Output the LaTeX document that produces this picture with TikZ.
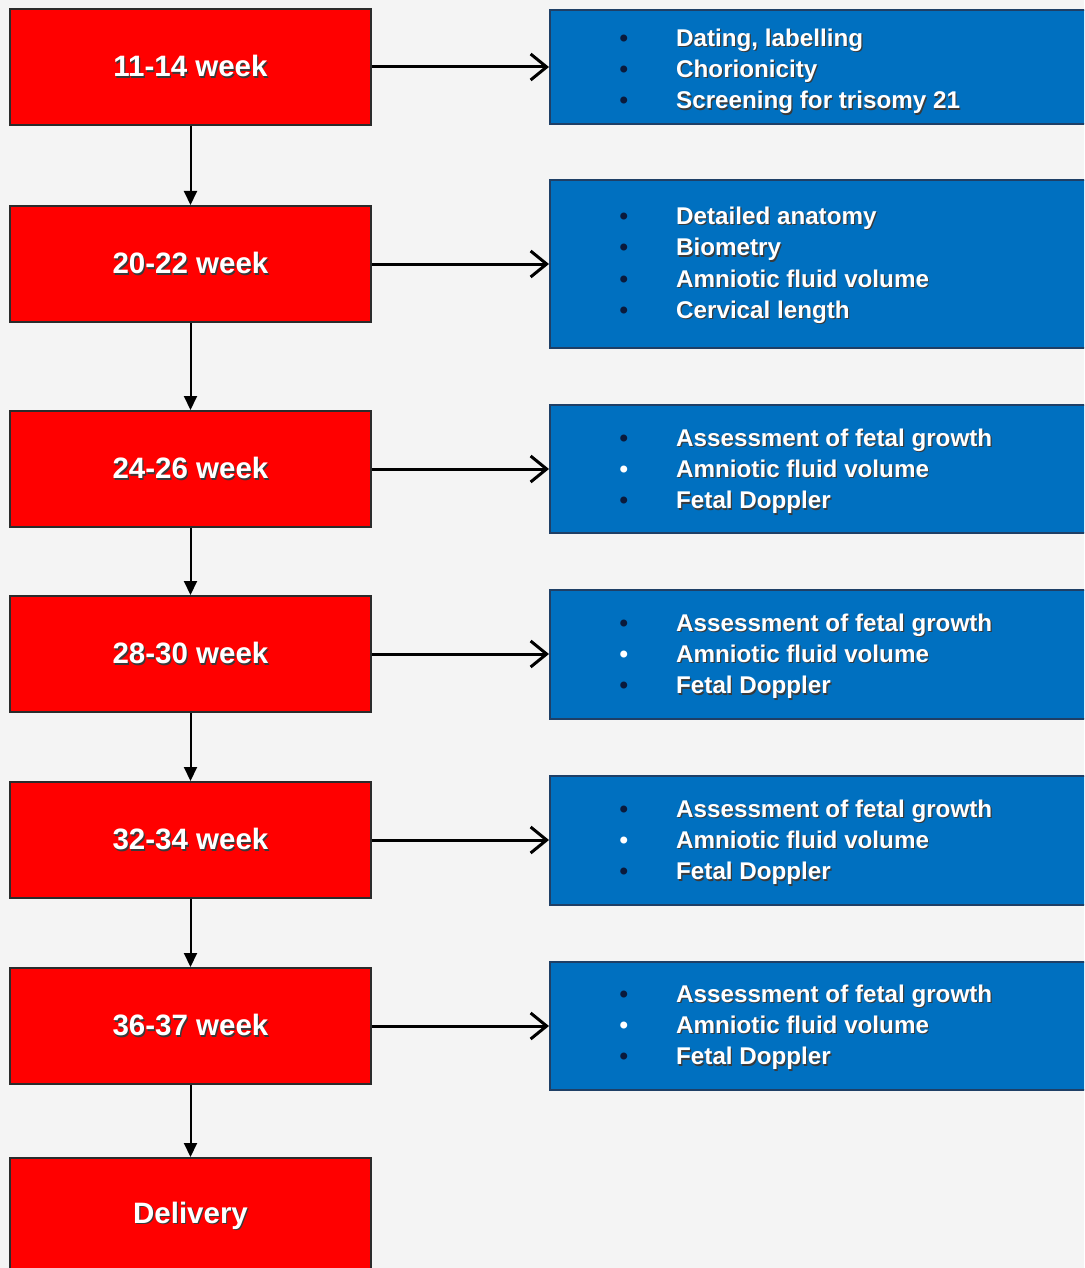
\documentclass[tikz,border=0pt]{standalone}
\usepackage{fontspec}
\setmainfont{Liberation Sans}
\usetikzlibrary{arrows.meta}
\definecolor{bg}{HTML}{F4F4F4}
\definecolor{boxred}{HTML}{FF0000}
\definecolor{boxblue}{HTML}{0070C0}
\definecolor{redborder}{HTML}{2B2B2B}
\definecolor{blueborder}{HTML}{1F3F66}
\definecolor{navy}{HTML}{0A1A3C}
\definecolor{shade}{HTML}{3A3A3A}
\newcommand{\sh}[1]{\leavevmode\rlap{\kern1.2pt\raisebox{-1.2pt}{\textcolor{shade}{#1}}}#1}
\newcommand{\dkb}{\makebox[0pt][r]{\textcolor{navy}{\textbullet}\hspace{48pt}}}
\newcommand{\wtb}{\makebox[0pt][r]{\textcolor{white}{\textbullet}\hspace{48pt}}}
\tikzset{
  redbox/.style={draw=redborder, line width=2pt, fill=boxred, minimum width=361pt,
    minimum height=116pt, text=white, font=\fontsize{29.5}{34}\selectfont\bfseries,
    inner sep=0pt, anchor=north west},
  bluebox/.style={draw=blueborder, line width=2pt, fill=boxblue, minimum width=545pt,
    inner sep=0pt, anchor=north west},
  bluetext/.style={text=white, font=\fontsize{24.2}{31.3}\selectfont\bfseries,
    align=left, anchor=west, inner sep=0pt},
  harrow/.style={line width=3pt, -{Straight Barb[length=16pt,width=26pt,line width=3pt]}},
  varrow/.style={line width=2pt, -{Triangle[length=14pt,width=13pt]}}
}
\begin{document}
\begin{tikzpicture}[x=1pt,y=-1pt]
\clip (0,0) rectangle (1084,1268);
\fill[bg] (0,0) rectangle (1084,1268);
% red boxes
\node[redbox] (r1) at (9,8) {\sh{11-14 week}};
\node[redbox] (r2) at (9,205) {\sh{20-22 week}};
\node[redbox] (r3) at (9,410) {\sh{24-26 week}};
\node[redbox] (r4) at (9,595) {\sh{28-30 week}};
\node[redbox] (r5) at (9,781) {\sh{32-34 week}};
\node[redbox] (r6) at (9,967) {\sh{36-37 week}};
\node[redbox] (r7) at (9,1157) {\sh{Delivery}};
% blue boxes
\node[bluebox, minimum height=114pt] (b1) at (549,9) {};
\node[bluebox, minimum height=168pt] (b2) at (549,179) {};
\node[bluebox, minimum height=128pt] (b3) at (549,404) {};
\node[bluebox, minimum height=129pt] (b4) at (549,589) {};
\node[bluebox, minimum height=129pt] (b5) at (549,775) {};
\node[bluebox, minimum height=128pt] (b6) at (549,961) {};
% texts
\node[bluetext] (t1) at (676,72) {\dkb\sh{Dating, labelling}\\\dkb\sh{Chorionicity}\\\dkb\sh{Screening for trisomy 21}};
\node[bluetext] (t2) at (676,266) {\dkb\sh{Detailed anatomy}\\\dkb\sh{Biometry}\\\dkb\sh{Amniotic fluid volume}\\\dkb\sh{Cervical length}};
\node[bluetext] (t3) at (676,472) {\dkb\sh{Assessment of fetal growth}\\\wtb\sh{Amniotic fluid volume}\\\dkb\sh{Fetal Doppler}};
\node[bluetext] (t4) at (676,657) {\dkb\sh{Assessment of fetal growth}\\\wtb\sh{Amniotic fluid volume}\\\dkb\sh{Fetal Doppler}};
\node[bluetext] (t5) at (676,843) {\dkb\sh{Assessment of fetal growth}\\\wtb\sh{Amniotic fluid volume}\\\dkb\sh{Fetal Doppler}};
\node[bluetext] (t6) at (676,1028) {\dkb\sh{Assessment of fetal growth}\\\wtb\sh{Amniotic fluid volume}\\\dkb\sh{Fetal Doppler}};
% horizontal arrows
\foreach \i in {1,...,6}{
  \draw[harrow] (r\i.east) -- (r\i.east -| b\i.west);
}
% vertical arrows
\foreach \i/\j in {1/2,2/3,3/4,4/5,5/6,6/7}{
  \draw[varrow] (r\i.south) -- (r\j.north);
}
\end{tikzpicture}
\end{document}
